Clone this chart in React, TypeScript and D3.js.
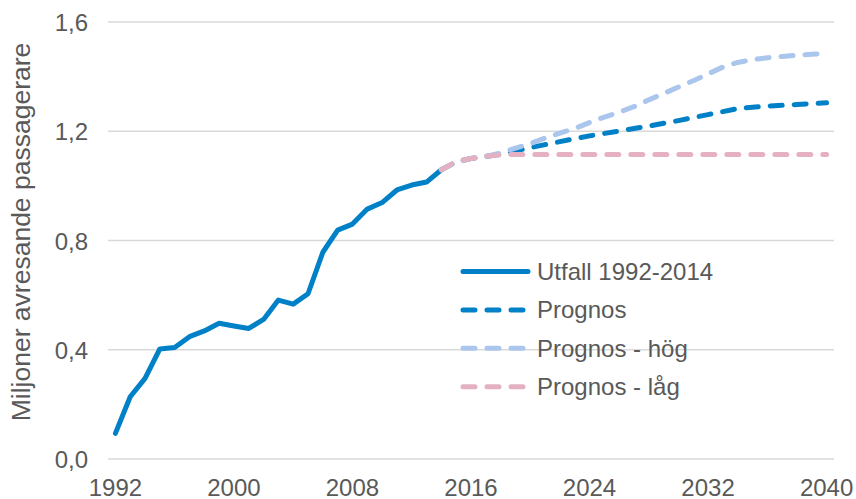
import React from "react";
import * as d3 from "d3";

const histYears = d3.range(1992, 2015);
const utfall = [0.094, 0.228, 0.295, 0.403, 0.408, 0.448, 0.469, 0.497, 0.487, 0.478, 0.511, 0.582, 0.567, 0.605, 0.757, 0.838, 0.860, 0.915, 0.939, 0.985, 1.003, 1.014, 1.059];

const progYears = d3.range(2014, 2041);
const prognos = [1.059, 1.088, 1.100, 1.108, 1.116, 1.128, 1.140, 1.151, 1.162, 1.173, 1.183, 1.192, 1.201, 1.210, 1.219, 1.229, 1.239, 1.250, 1.261, 1.272, 1.283, 1.288, 1.292, 1.295, 1.298, 1.301, 1.304];
const prognosHog = [1.059, 1.088, 1.100, 1.108, 1.120, 1.138, 1.155, 1.175, 1.193, 1.210, 1.232, 1.252, 1.270, 1.290, 1.315, 1.338, 1.362, 1.385, 1.410, 1.435, 1.452, 1.462, 1.469, 1.474, 1.478, 1.482, 1.485];
const prognosLag = [1.059, 1.088, 1.100, 1.108, 1.114, 1.115, 1.115, 1.115, 1.115, 1.115, 1.115, 1.115, 1.115, 1.115, 1.115, 1.115, 1.115, 1.115, 1.115, 1.115, 1.115, 1.115, 1.115, 1.115, 1.115, 1.115, 1.115];

const allYears = d3.range(1992, 2041);
const xTickYears = [1992, 2000, 2008, 2016, 2024, 2032, 2040];
const yTicks = [0, 0.4, 0.8, 1.2, 1.6];

const legendItems = [
  { label: "Utfall 1992-2014", color: "#0080C6", dashed: false },
  { label: "Prognos", color: "#0080C6", dashed: true },
  { label: "Prognos - hög", color: "#ABC6EC", dashed: true },
  { label: "Prognos - låg", color: "#E4B1C2", dashed: true },
];

const FONT = "'Liberation Sans', Arial, sans-serif";
const TEXT = "#595959";

export default function App() {
  const width = 856;
  const height = 499;
  const x = d3.scalePoint<number>().domain(allYears).range([108, 834]).padding(0.5);
  const y = d3.scaleLinear().domain([0, 1.6]).range([459, 22]);
  const line = d3
    .line<[number, number]>()
    .x((d) => x(d[0]) as number)
    .y((d) => y(d[1]));

  const histPath = line(histYears.map((yr, i) => [yr, utfall[i]]));
  const progPath = line(progYears.map((yr, i) => [yr, prognos[i]]));
  const hogPath = line(progYears.map((yr, i) => [yr, prognosHog[i]]));
  const lagPath = line(progYears.map((yr, i) => [yr, prognosLag[i]]));

  const dash = "12 12";
  const sw = 5;

  return (
    <svg width={width} height={height} style={{ position: "absolute", left: 0, top: 0 }} fontFamily={FONT}>
      <rect width={width} height={height} fill="#fff" />
      {yTicks.map((t) => (
        <g key={t}>
          <line x1={108} x2={834} y1={y(t)} y2={y(t)} stroke="#D9D9D9" strokeWidth={1.5} />
          <text x={88} y={y(t) + 9} textAnchor="end" fontSize={24} fill={TEXT}>
            {t.toFixed(1).replace(".", ",")}
          </text>
        </g>
      ))}
      {xTickYears.map((yr) => (
        <text key={yr} x={x(yr)} y={496} textAnchor="middle" fontSize={24} fill={TEXT}>
          {yr}
        </text>
      ))}
      <text transform="translate(30,232) rotate(-90)" textAnchor="middle" fontSize={26.5} fill={TEXT}>
        Miljoner avresande passagerare
      </text>
      <path d={histPath || ""} fill="none" stroke="#0080C6" strokeWidth={sw} strokeLinejoin="round" strokeLinecap="round" />
      <path d={progPath || ""} fill="none" stroke="#0080C6" strokeWidth={sw} strokeDasharray={dash} strokeLinecap="round" strokeLinejoin="round" />
      <path d={hogPath || ""} fill="none" stroke="#ABC6EC" strokeWidth={sw} strokeDasharray={dash} strokeLinecap="round" strokeLinejoin="round" />
      <path d={lagPath || ""} fill="none" stroke="#E4B1C2" strokeWidth={sw} strokeDasharray={dash} strokeLinecap="round" strokeLinejoin="round" />
      {legendItems.map((it, i) => {
        const ly = 271.5 + i * 38.4;
        return (
          <g key={it.label}>
            <line
              x1={463}
              x2={528}
              y1={ly}
              y2={ly}
              stroke={it.color}
              strokeWidth={sw}
              strokeLinecap="round"
              strokeDasharray={it.dashed ? dash : undefined}
            />
            <text x={537} y={ly + 8.5} fontSize={24} fill={TEXT}>
              {it.label}
            </text>
          </g>
        );
      })}
    </svg>
  );
}
